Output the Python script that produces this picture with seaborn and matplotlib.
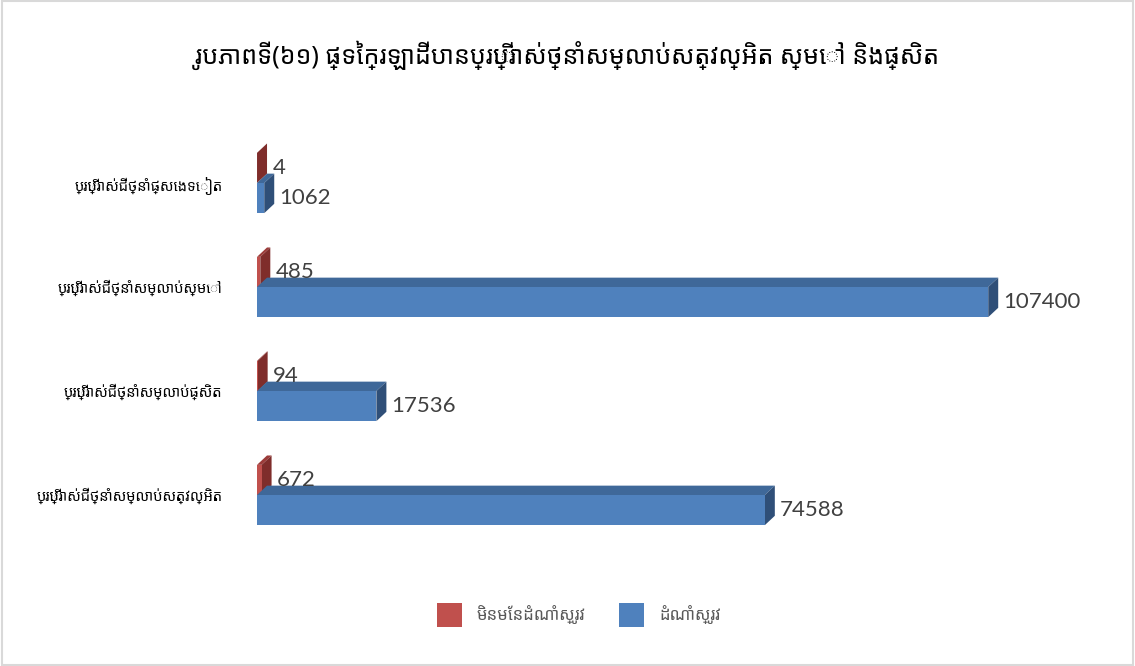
import matplotlib
matplotlib.use("Agg")
import matplotlib.pyplot as plt
import numpy as np
import pandas as pd
import seaborn as sns
from matplotlib.patches import Polygon, Rectangle

title = "រូបភាពទី(៦១) ផ្ទៃក្រឡាដីបានប្រើប្រាស់ថ្នាំសម្លាប់សត្វល្អិត ស្មៅ និងផ្សិត"
categories = [
    "ប្រើប្រាស់ជីថ្នាំផ្សេងទៀត",
    "ប្រើប្រាស់ជីថ្នាំសម្លាប់ស្មៅ",
    "ប្រើប្រាស់ជីថ្នាំសម្លាប់ផ្សិត",
    "ប្រើប្រាស់ជីថ្នាំសម្លាប់សត្វល្អិត",
]
series = ["មិនមែនដំណាំស្រូវ", "ដំណាំស្រូវ"]
non_rice = [4, 485, 94, 672]
rice = [1062, 107400, 17536, 74588]

front = ["#C0504D", "#4F81BD"]
top_col = ["#9B3B39", "#3F6899"]
side_col = ["#7F2D2B", "#2F4F78"]

sns.set_theme(style="white")
khmer_fonts = ["Noto Sans Khmer", "Khmer OS System", "Khmer OS", "Noto Sans", "DejaVu Sans"]
plt.rcParams["font.family"] = khmer_fonts

df = pd.DataFrame({
    "category": categories * 2,
    "series": [series[0]] * 4 + [series[1]] * 4,
    "value": non_rice + rice,
})

fig = plt.figure(figsize=(11.35, 6.66), dpi=100)
ax = fig.add_axes([257 / 1135, 1 - 547 / 666, (1074 - 257) / 1135, (547 - 131) / 666])

sns.barplot(data=df, y="category", x="value", hue="series", hue_order=series,
            order=categories, palette=front, orient="h", width=0.58,
            saturation=1, linewidth=0, ax=ax, legend=False)

xmax = 120000
ax.set_xlim(0, xmax)
ax.set_ylim(3.5, -0.5)

# fake 3D depth, built from the drawn bars
dx = 10 * xmax / 817
dy = -0.09
for k, cont in enumerate(ax.containers):
    for bar in cont:
        x0, y0 = bar.get_x(), bar.get_y()
        w, h = bar.get_width(), bar.get_height()
        topf = Polygon([(x0, y0), (x0 + w, y0), (x0 + w + dx, y0 + dy), (x0 + dx, y0 + dy)],
                       closed=True, facecolor=top_col[k], edgecolor="none", zorder=1.5 + k)
        sidef = Polygon([(x0 + w, y0), (x0 + w, y0 + h), (x0 + w + dx, y0 + h + dy), (x0 + w + dx, y0 + dy)],
                        closed=True, facecolor=side_col[k], edgecolor="none", zorder=1.5 + k)
        ax.add_patch(topf)
        ax.add_patch(sidef)
        bar.set_zorder(2 + k)
        bar.set_edgecolor("none")
    ax.bar_label(cont, labels=[str(v) for v in (non_rice, rice)[k]], padding=11,
                 fontsize=16, color="#404040", family=["Lato", "DejaVu Sans"])

for s in ax.spines.values():
    s.set_visible(False)
ax.set_xticks([])
ax.set_xlabel("")
ax.set_ylabel("")
ax.tick_params(axis="y", length=0, pad=25, labelsize=10.5, labelcolor="#000000")

fig.text(0.5, 1 - 55 / 666, title, ha="center", va="center", fontsize=18,
         fontweight="bold", color="#000000")

handles = [Rectangle((0, 0), 1, 1, facecolor=c, edgecolor="none") for c in front]
fig.legend(handles, series, loc="center", bbox_to_anchor=(0.51, 1 - 615 / 666), ncol=2,
           frameon=False, handlelength=1.5, handleheight=1.9, columnspacing=2.0,
           handletextpad=0.9, prop={"size": 12, "weight": "bold"}, labelcolor="#595959")

fig.patches.append(Rectangle((0.002, 0.002), 0.996, 0.996, transform=fig.transFigure,
                             fill=False, edgecolor="#d9d9d9", linewidth=1.5))

fig.savefig("out.png", dpi=100, facecolor="white")
